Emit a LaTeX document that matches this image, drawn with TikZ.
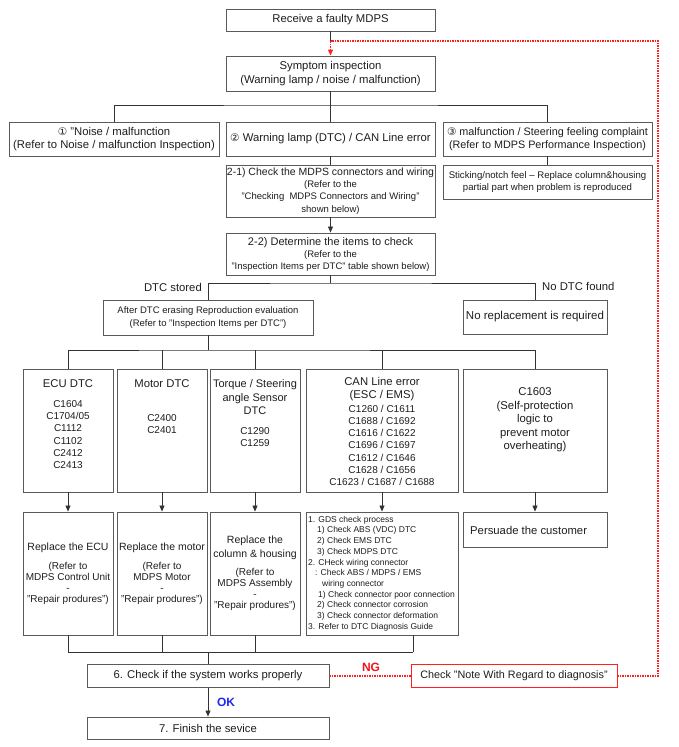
\documentclass[tikz,border=0pt]{standalone}
\usepackage{fontspec}
\setmainfont{Liberation Sans}
\newfontfamily\symfont{DejaVu Sans}
\usetikzlibrary{arrows.meta}
\definecolor{bord}{HTML}{5A5A5A}
\definecolor{txt}{HTML}{1E1E1E}
\definecolor{ngred}{HTML}{F0141E}
\definecolor{okblue}{HTML}{1E28F0}
\definecolor{dotred}{HTML}{FF2020}
\newcommand{\fs}[2]{\fontsize{#1}{#2}\selectfont}
\newcommand{\circnum}[1]{{\symfont\fs{10.5}{12}#1}}
\begin{document}
\begin{tikzpicture}[x=1pt,y=-1pt,
  font=\fs{11.3}{13.5}, text=txt,
  box/.style={draw=bord, line width=0.9pt, fill=white, inner sep=0pt, align=center, text=txt},
  txtn/.style={inner sep=0pt, align=center, text=txt},
  conn/.style={draw=black!80, line width=0.8pt},
  arr/.style={conn, -{Triangle[length=6pt,width=5pt]}},
  reddot/.style={draw=dotred, line width=1.2pt, dash pattern=on 1.5pt off 1pt},
]
\fill[white] (0,0) rectangle (678,747);
\useasboundingbox (0,0) rectangle (678,747);

% top
\node[box, minimum width=209pt, minimum height=22pt] (recv) at (330.5,20) {Receive a faulty MDPS};
\node[box, minimum width=209pt, minimum height=35pt] (symp) at (330.5,73.5) {Symptom inspection\\(Warning lamp / noise / malfunction)};

\node[box, minimum width=210pt, minimum height=34pt] (b1) at (114,139)
  {\circnum{①} "Noise / malfunction\\(Refer to Noise / malfunction Inspection)};
\node[box, minimum width=209pt, minimum height=34pt] (b2) at (330.5,139)
  {\circnum{②} Warning lamp (DTC) / CAN Line error};
\node[box, minimum width=209pt, minimum height=34pt, font=\fs{10.8}{13.5}] (b3) at (547.5,139)
  {\circnum{③} malfunction / Steering feeling complaint\\(Refer to MDPS Performance Inspection)};

\node[box, minimum width=209pt, minimum height=52pt, font=\fs{9.5}{12.3}] (b21) at (330.5,191)
  {{\fs{10.5}{12.3}2-1) Check the MDPS connectors and wiring}\\(Refer to the\\"Checking\ \ MDPS Connectors and Wiring"\\shown below)};
\node[box, minimum width=209pt, minimum height=34pt, font=\fs{9.6}{12.6}] (b3s) at (547.5,182)
  {Sticking/notch feel -- Replace column\&housing\\partial part when problem is reproduced};

\node[box, minimum width=209pt, minimum height=42pt, font=\fs{9.5}{12}] (b22) at (330.5,254)
  {{\fs{11}{12}2-2) Determine the items to check}\\(Refer to the\\"Inspection Items per DTC" table shown below)};

\node[txtn, anchor=east] (lstored) at (202,287) {DTC stored};
\node[txtn, anchor=west] (lnodtc) at (542,286.5) {No DTC found};

\node[box, minimum width=210pt, minimum height=35pt, font=\fs{9.5}{12.5}] (after) at (208,317.5)
  {After DTC erasing Reproduction evaluation\\(Refer to "Inspection Items per DTC")};
\node[box, minimum width=144pt, minimum height=34pt, font=\fs{11.5}{13.5}] (norep) at (535,317)
  {No replacement is required};

% row 1
\node[box, minimum width=90pt, minimum height=123pt] (r1ecu) at (68,430.5) {};
\node[box, minimum width=90pt, minimum height=123pt] (r1mot) at (162,430.5) {};
\node[box, minimum width=90pt, minimum height=123pt] (r1tor) at (255,430.5) {};
\node[box, minimum width=152pt, minimum height=123pt] (r1can) at (382,430.5) {};
\node[box, minimum width=144pt, minimum height=123pt] (r1ovh) at (535,430.5) {};

\node[txtn, anchor=north, font=\fs{10}{12.2}] (t1ecu) at (68,379.5)
  {{\fs{11.3}{12.2}ECU DTC}\\[7.8pt]C1604\\C1704/05\\C1112\\C1102\\C2412\\C2413};
\node[txtn, anchor=north, font=\fs{10}{12.2}] (t1mot) at (162,379.5)
  {{\fs{11.3}{12.2}Motor DTC}\\[21.8pt]C2400\\C2401};
\node[txtn, anchor=north, font=\fs{10}{12.2}] (t1tor) at (255,379.5)
  {{\fs{11}{12.2}Torque / Steering}\\[1.3pt]{\fs{11}{12.2}angle Sensor}\\[1.3pt]{\fs{11}{12.2}DTC}\\[7.8pt]C1290\\C1259};
\node[txtn, anchor=north, font=\fs{10}{12.3}] (t1can) at (382,377.5)
  {{\fs{11.3}{12.3}CAN Line error}\\[0.8pt]{\fs{11.3}{12.3}(ESC / EMS)}\\[0.8pt]C1260 / C1611\\C1688 / C1692\\C1616 / C1622\\C1696 / C1697\\C1612 / C1646\\C1628 / C1656\\C1623 / C1687 / C1688};
\node[txtn, anchor=north, font=\fs{11.3}{13.5}] (t1ovh) at (535,387.5)
  {C1603\\(Self-protection\\logic to\\prevent motor\\overheating)};

% row 2
\node[box, minimum width=90pt, minimum height=123pt, font=\fs{10}{11}] (r2ecu) at (68,573.5)
  {{\fs{10.5}{11}Replace the ECU}\\[7.5pt](Refer to\\MDPS Control Unit\\-\\"Repair produres")};
\node[box, minimum width=90pt, minimum height=123pt, font=\fs{10}{11}] (r2mot) at (162,573.5)
  {{\fs{10.5}{11}Replace the motor}\\[7.5pt](Refer to\\MDPS Motor\\-\\"Repair produres")};
\node[box, minimum width=90pt, minimum height=123pt, font=\fs{10}{11}] (r2tor) at (255,573.5)
  {{\fs{10.5}{11}Replace the}\\[2.3pt]{\fs{10.5}{11}column \& housing}\\[7.3pt](Refer to\\MDPS Assembly\\-\\"Repair produres")};
\node[box, minimum width=152pt, minimum height=123pt] (r2can) at (382,573.5) {};
\node[txtn, anchor=west, align=left, font=\fs{8.5}{10.7}] (t2can) at (308,573.5)
  {1. GDS check process\\
   \hspace*{9pt}1) Check ABS (VDC) DTC\\
   \hspace*{9pt}2) Check EMS DTC\\
   \hspace*{9pt}3) Check MDPS DTC\\
   2. CHeck wiring connector\\
   \hspace*{7pt}: Check ABS / MDPS / EMS\\
   \hspace*{14pt}wiring connector\\
   \hspace*{10pt}1) Check connector poor connection\\
   \hspace*{9pt}2) Check connector corrosion\\
   \hspace*{9pt}3) Check connector deformation\\
   3. Refer to DTC Diagnosis Guide};
\node[box, minimum width=144pt, minimum height=35pt] (pers) at (535,529.5) {};
\node[txtn, anchor=west] (tpers) at (470,530.5) {Persuade the customer};

% bottom
\node[box, minimum width=242pt, minimum height=23pt] (chk6) at (208,676) {6. Check if the system works properly};
\node[box, draw=dotred, minimum width=206pt, minimum height=23pt, font=\fs{10.8}{13}] (note) at (514,676) {Check "Note With Regard to diagnosis"};
\node[box, minimum width=242pt, minimum height=22pt] (fin7) at (208,728) {7. Finish the sevice};

\node[txtn, text=ngred, font=\bfseries\fs{12}{14}] (ng) at (371,667) {NG};
\node[txtn, text=okblue, font=\bfseries\fs{12}{14}] (ok) at (226,702) {OK};

% connectors
\coordinate (jr) at (330.5,41);
\coordinate (rc) at (658,41);
\draw[conn] (recv.south) -- (jr);
\draw[reddot, -{Triangle[length=6pt,width=5pt]}] (jr) -- (symp.north);

\coordinate (j1) at (330.5,105);
\draw[conn] (symp.south) -- (b2.north);
\draw[conn] (b1.north) |- (j1) -| (b3.north);
\draw[conn] (b2.south) -- (b21.north);
\draw[conn] (b3.south) -- (b3s.north);
\draw[arr] (b21.south) -- (b22.north);

\coordinate (j2) at (330.5,283);
\draw[conn] (b22.south) -- (j2);
\draw[conn] (after.north) |- (j2) -| (norep.north);

\coordinate (j3) at (208,350);
\draw[conn] (after.south) -- (j3);
\draw[conn] (r1ecu.north) |- (j3) -| (r1ovh.north);
\draw[conn] (r1mot.north) -- (r1mot.north |- j3);
\draw[conn] (r1tor.north) -- (r1tor.north |- j3);
\draw[conn] (r1can.north) -- (r1can.north |- j3);

\draw[arr] (r1ecu.south) -- (r2ecu.north);
\draw[arr] (r1mot.south) -- (r2mot.north);
\draw[arr] (r1tor.south) -- (r2tor.north);
\draw[arr] (r1can.south) -- (r2can.north);
\draw[arr] (r1ovh.south) -- (pers.north);

\coordinate (j4) at (208,652);
\coordinate (canout) at (413,652);
\draw[conn] (r2ecu.south) |- (canout);
\draw[conn] (r2can.south -| canout) -- (canout);
\draw[conn] (r2mot.south) -- (r2mot.south |- j4);
\draw[conn] (r2tor.south) -- (r2tor.south |- j4);
\draw[conn] (j4) -- (chk6.north);

\draw[arr] (chk6.south) -- (fin7.north);
\draw[reddot] (chk6.east) -- (note.west);
\draw[reddot] (note.east) -| (rc) -- (jr);
\end{tikzpicture}
\end{document}
